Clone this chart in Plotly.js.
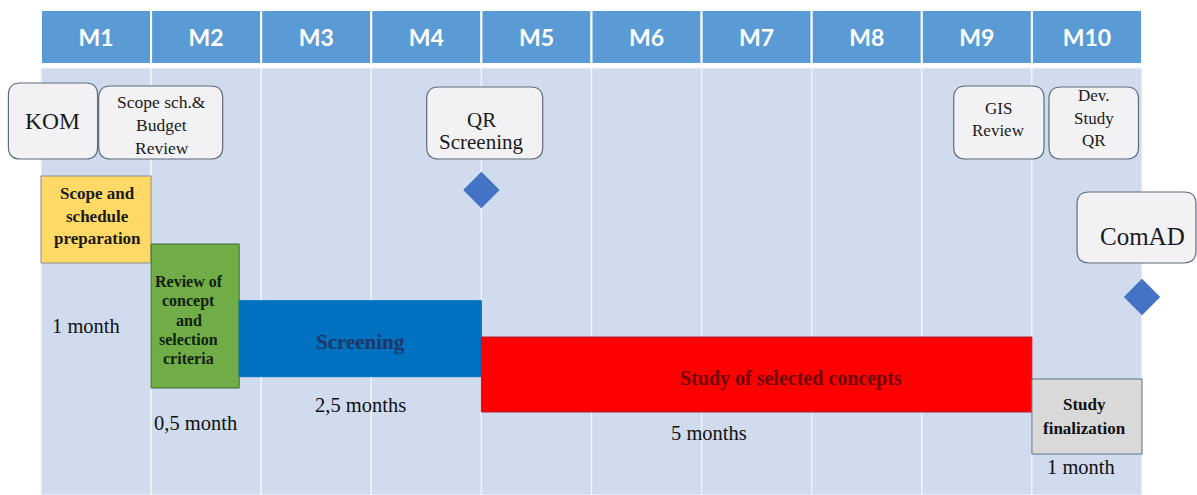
<!DOCTYPE html>
<html><head><meta charset="utf-8">
<script src="https://cdn.plot.ly/plotly-3.0.1.min.js"></script>
<style>html,body{margin:0;padding:0;background:#fff}#chart{width:1197px;height:495px}</style>
</head><body><div id="chart"></div>
<script>
// ---------------- data ----------------
const months = ['M1','M2','M3','M4','M5','M6','M7','M8','M9','M10'];
const taskNames = ['Scope and<br>schedule<br>preparation','Review of<br>concept<br>and<br>selection<br>criteria','Screening','Study of selected concepts','Study<br>finalization'];
const taskStart = [0, 1, 1.8, 4, 9];
const taskDur = [1, 0.8, 2.2, 5, 1];
const durLabels = ['1 month','0,5 month','2,5 months','5 months','1 month'];
const milestoneNames = ['QR Screening','ComAD'];
const milestoneMonth = [4, 10];
const noteNames = ['KOM','Scope sch.&<br>Budget<br>Review','QR<br>Screening','GIS<br>Review','Dev.<br>Study<br>QR','ComAD'];

// ---------------- layout / styles ----------------
const PXM = 110.1;               // pixels per month
const X0PX = 41;                 // pixel of month 0
const SERIF = '"Liberation Serif", Tinos, serif';
const headerY = 37, headerH = 54;
const bodyY = 281.5, bodyH = 427;
const taskY = [219.5, 316, 338.7, 374.5, 416.5];
const taskH = [87, 144, 76, 75, 75];
const taskColor = ['#ffd966','#70ad47','#0070c0','#ff0000','#d9d9d9'];
const taskLine = ['#8c8c8c','#3d6b35','#0070c0','#b02030','#60708a'];
const taskTextColor = ['#1a1a1a','#10200c','#1f3864','#6b0a0a','#111111'];
const taskTextSize = [17, 16, 21, 20, 17];
const taskTextSpacing = [22.5, 19.2, 0, 0, 24];
const taskTextDx = [0.01, -0.056, 0, 0.312, -0.018];
const taskTextY = [216, 320, 342, 378, 416];
const durDx = [-0.09, 0, 0.006, -0.433, -0.054];
const durY = [326, 423, 405, 433, 467];
const milestoneY = [190, 297];
const notes = [
  {x0:-0.296, x1:0.514, y0:83, y1:159, tx:0.10,  ty:[121], size:23.5},
  {x0:0.524,  x1:1.650, y0:86, y1:159, tx:1.096, ty:[101.7,125,147.5], size:17.5},
  {x0:3.503,  x1:4.557, y0:87, y1:159, tx:4.0,   ty:[120,141.5], size:21},
  {x0:8.290,  x1:9.110, y0:86, y1:159, tx:8.70,  ty:[108,130], size:17},
  {x0:9.155,  x1:9.968, y0:87, y1:159, tx:9.56,  ty:[95,118,140], size:17},
  {x0:9.410,  x1:10.490,y0:192,y1:263, tx:10.0,  ty:[236], size:25}
];

const traces = [];
// header cells
traces.push({type:'bar', orientation:'h', base: months.map((m,i)=>i), x: months.map(()=>1),
  y: months.map(()=>headerY), width: headerH, text: months, textposition:'inside',
  insidetextanchor:'middle', constraintext:'none',
  textfont:{family:'Lato', size:23, color:'#ffffff', weight:700},
  marker:{color:'#5b9bd5', line:{color:'#ffffff', width:2}}, hoverinfo:'skip', showlegend:false});
// body columns
traces.push({type:'bar', orientation:'h', base: months.map((m,i)=>i), x: months.map(()=>1),
  y: months.map(()=>bodyY), width: bodyH,
  marker:{color:'#d0dbee', line:{color:'#f4f7fc', width:1.2}}, hoverinfo:'skip', showlegend:false});
// tasks
taskNames.forEach((n,i)=>{
  traces.push({type:'bar', orientation:'h', base:[taskStart[i]], x:[taskDur[i]], y:[taskY[i]], width:taskH[i],
    marker:{color:taskColor[i], line:{color:taskLine[i], width:1}}, hoverinfo:'skip', showlegend:false, name:n});
});
// milestones
traces.push({type:'scatter', mode:'markers', x: milestoneMonth, y: milestoneY, text: milestoneNames,
  marker:{symbol:'diamond', size:28, color:'#4472c4', line:{width:0}}, hoverinfo:'skip', showlegend:false});

const annotations = [];
function addLines(lines, x, ys, size, color, bold){
  lines.forEach((t,k)=>{
    annotations.push({xref:'x', yref:'y', x:x, y:ys[k], text: bold ? '<b>'+t+'</b>' : t, showarrow:false,
      xanchor:'center', yanchor:'middle', font:{family:SERIF, size:size, color:color}});
  });
}
taskNames.forEach((n,i)=>{
  const lines = n.split('<br>');
  const sp = taskTextSpacing[i];
  const ys = lines.map((l,k)=> taskTextY[i] + (k-(lines.length-1)/2)*sp);
  addLines(lines, taskStart[i]+taskDur[i]/2+taskTextDx[i], ys, taskTextSize[i], taskTextColor[i], true);
  addLines([durLabels[i]], taskStart[i]+taskDur[i]/2+durDx[i], [durY[i]], 20.5, '#111111', false);
});

const shapes = [];
function rrect(x0,x1,y0,y1,r){
  const rx=r/PXM, ry=r;
  return `M${x0+rx},${y0} L${x1-rx},${y0} Q${x1},${y0} ${x1},${y0+ry} L${x1},${y1-ry} Q${x1},${y1} ${x1-rx},${y1} `+
         `L${x0+rx},${y1} Q${x0},${y1} ${x0},${y1-ry} L${x0},${y0+ry} Q${x0},${y0} ${x0+rx},${y0} Z`;
}
noteNames.forEach((n,i)=>{
  const b = notes[i];
  shapes.push({type:'path', xref:'x', yref:'y', path:rrect(b.x0,b.x1,b.y0,b.y1,12),
    fillcolor:'#f2f2f4', line:{color:'#5f6b7d', width:1.2}, layer:'above'});
  addLines(n.split('<br>'), b.tx, b.ty, b.size, '#1a1a1a', false);
});

const layout = {
  width:1197, height:495, margin:{l:0,r:0,t:0,b:0}, paper_bgcolor:'#ffffff', plot_bgcolor:'#ffffff',
  barmode:'overlay', showlegend:false,
  font:{family:SERIF},
  xaxis:{range:[-X0PX/PXM, (1197-X0PX)/PXM], visible:false, showgrid:false, zeroline:false, fixedrange:true},
  yaxis:{range:[495,0], visible:false, showgrid:false, zeroline:false, fixedrange:true},
  shapes:shapes, annotations:annotations
};
Plotly.newPlot('chart', traces, layout, {displayModeBar:false, staticPlot:true});
</script>
</body></html>
